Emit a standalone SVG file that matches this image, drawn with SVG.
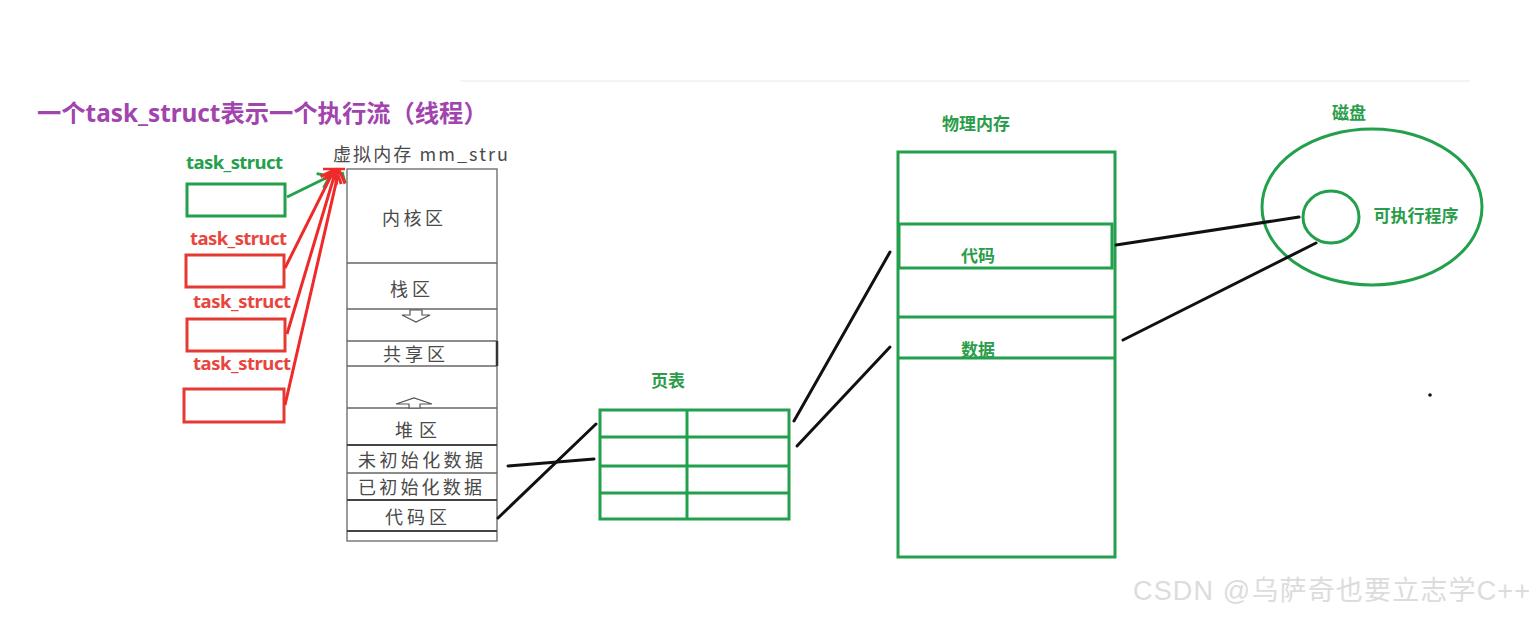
<svg xmlns="http://www.w3.org/2000/svg" width="1540" height="617" viewBox="0 0 1540 617">
<defs>
<style>
.title{font-family:"Noto Sans","Noto Sans CJK SC",sans-serif;font-weight:bold;font-size:24.3px;fill:#a244ae}
.gl{font-family:"Noto Sans","Noto Sans CJK SC",sans-serif;font-weight:bold;font-size:18.5px;fill:#23a04c}
.rl{font-family:"Noto Sans","Noto Sans CJK SC",sans-serif;font-weight:bold;font-size:18.5px;fill:#e8463c}
.gt{font-family:"Noto Sans CJK SC",sans-serif;font-weight:bold;font-size:17px;fill:#2a9d4a}
.vt{font-family:"Noto Sans CJK SC",sans-serif;font-size:18px;fill:#4a4a4a}
.gbox{fill:none;stroke:#23a04c;stroke-width:3}
.rbox{fill:none;stroke:#e53a33;stroke-width:3}
.vbox{fill:#fff;stroke:#666;stroke-width:1.3}
.vline{stroke:#666;stroke-width:1.3}
.blk{stroke:#111;stroke-width:3;stroke-linecap:round}
.red{stroke:#ee2a2a;stroke-width:3;fill:none}
.grn{stroke:#23a04c;stroke-width:3;fill:none}
.harrow{fill:#fff;stroke:#555;stroke-width:1.2}
</style>
<marker id="rh" markerUnits="userSpaceOnUse" markerWidth="30" markerHeight="30" refX="15" refY="15" orient="auto">
<path d="M3,6 L15,15 L3,24" fill="none" stroke="#ee2a2a" stroke-width="3"/>
</marker>
<marker id="gh" markerUnits="userSpaceOnUse" markerWidth="30" markerHeight="30" refX="15" refY="15" orient="auto">
<path d="M4,7 L15,15 L4,23" fill="none" stroke="#23a04c" stroke-width="3"/>
</marker>
</defs>
<rect width="1540" height="617" fill="#fff"/>
<line x1="460" y1="81" x2="1470" y2="81" stroke="#f0f0f0" stroke-width="1.5"/>
<text class="title" x="37" y="122">一个task_struct表示一个执行流（线程）</text>

<g id="task-green">
<text class="gl" x="186" y="169" textLength="97">task_struct</text>
<rect class="gbox" x="187" y="184" width="98" height="32"/>
</g>
<g id="task-red-1">
<text class="rl" x="190" y="245" textLength="97">task_struct</text>
<rect class="rbox" x="186" y="255" width="98" height="32"/>
</g>
<g id="task-red-2">
<text class="rl" x="193" y="308" textLength="98">task_struct</text>
<rect class="rbox" x="187" y="319" width="98" height="32"/>
</g>
<g id="task-red-3">
<text class="rl" x="193" y="370" textLength="98">task_struct</text>
<rect class="rbox" x="184" y="389" width="100" height="33"/>
</g>

<g id="virtual-memory">
<text class="vt" x="333" y="161" fill="#333" font-size="17" textLength="175">虚拟内存 mm_stru</text>
<rect class="vbox" x="347" y="169" width="150" height="372"/>
<line class="vline" x1="347" y1="263" x2="497" y2="263"/>
<line class="vline" x1="347" y1="309" x2="497" y2="309"/>
<line class="vline" x1="347" y1="341" x2="497" y2="341"/>
<line class="vline" x1="347" y1="366" x2="497" y2="366"/>
<line x1="497" y1="341" x2="497" y2="366" stroke="#333" stroke-width="2.5"/>
<line class="vline" x1="347" y1="408" x2="497" y2="408"/>
<line x1="347" y1="445" x2="497" y2="445" stroke="#444" stroke-width="2"/>
<line class="vline" x1="347" y1="473" x2="497" y2="473"/>
<line x1="347" y1="500" x2="497" y2="500" stroke="#444" stroke-width="1.8"/>
<line x1="347" y1="531" x2="497" y2="531" stroke="#444" stroke-width="1.8"/>
<text class="vt" x="382" y="225" textLength="61">内核区</text>
<text class="vt" x="390" y="296" textLength="40">栈区</text>
<path class="harrow" d="M410,310 L422,310 L422,315 L430,315 L416,322 L402,315 L410,315 Z"/>
<text class="vt" x="383" y="361" textLength="62">共享区</text>
<path class="harrow" d="M409,408 L409,404 L396,404 L414,398 L432,404 L420,404 L420,408 Z"/>
<text class="vt" x="395" y="437" textLength="42">堆区</text>
<text class="vt" x="358" y="467" textLength="125">未初始化数据</text>
<text class="vt" x="358" y="494" textLength="124">已初始化数据</text>
<text class="vt" x="385" y="524" textLength="62">代码区</text>
</g>

<g id="page-table">
<text class="gt" x="668" y="387" text-anchor="middle">页表</text>
<rect class="gbox" x="600" y="410" width="189" height="109"/>
<line class="gbox" x1="687" y1="410" x2="687" y2="519"/>
<line class="gbox" x1="600" y1="437" x2="789" y2="437"/>
<line class="gbox" x1="600" y1="466" x2="789" y2="466"/>
<line class="gbox" x1="600" y1="493" x2="789" y2="493"/>
</g>

<g id="physical-memory">
<text class="gt" x="976" y="130" text-anchor="middle">物理内存</text>
<rect class="gbox" x="898" y="152" width="217" height="405"/>
<rect class="gbox" x="899" y="224" width="213" height="44"/>
<line class="gbox" x1="898" y1="317" x2="1115" y2="317"/>
<line class="gbox" x1="898" y1="358" x2="1115" y2="358"/>
<text class="gt" x="978" y="262" text-anchor="middle">代码</text>
<text class="gt" x="978" y="356" text-anchor="middle">数据</text>
</g>

<g id="disk">
<text class="gt" x="1349" y="119" text-anchor="middle">磁盘</text>
<ellipse class="gbox" cx="1372" cy="207" rx="110" ry="78"/>
<ellipse class="gbox" cx="1331" cy="217" rx="28" ry="26"/>
<text class="gt" x="1416" y="222" text-anchor="middle">可执行程序</text>
</g>

<g id="connectors">
<line class="grn" x1="287" y1="197" x2="330" y2="176" marker-end="url(#gh)"/>
<path d="M342,172 L345,183" class="grn"/>
<line class="red" x1="285" y1="268" x2="334" y2="170" marker-end="url(#rh)"/>
<line class="red" x1="287" y1="334" x2="336" y2="170" marker-end="url(#rh)"/>
<line class="red" x1="285" y1="405" x2="339" y2="170" marker-end="url(#rh)"/>
<line x1="323" y1="169" x2="345" y2="169" stroke="#ee2a2a" stroke-width="2.5"/>
<line class="blk" x1="508" y1="466" x2="594" y2="459"/>
<line class="blk" x1="498" y1="518" x2="596" y2="424"/>
<line class="blk" x1="794" y1="421" x2="890" y2="252"/>
<line class="blk" x1="797" y1="446" x2="890" y2="347"/>
<line class="blk" x1="1116" y1="245" x2="1299" y2="217"/>
<line class="blk" x1="1123" y1="340" x2="1316" y2="243"/>
</g>

<circle cx="1430" cy="395" r="1.8" fill="#111"/>
<text x="1133" y="600" font-family="Liberation Sans, Noto Sans CJK SC, sans-serif" font-size="27" fill="#dcdcdc" textLength="397" lengthAdjust="spacing">CSDN @乌萨奇也要立志学C++</text>
</svg>
